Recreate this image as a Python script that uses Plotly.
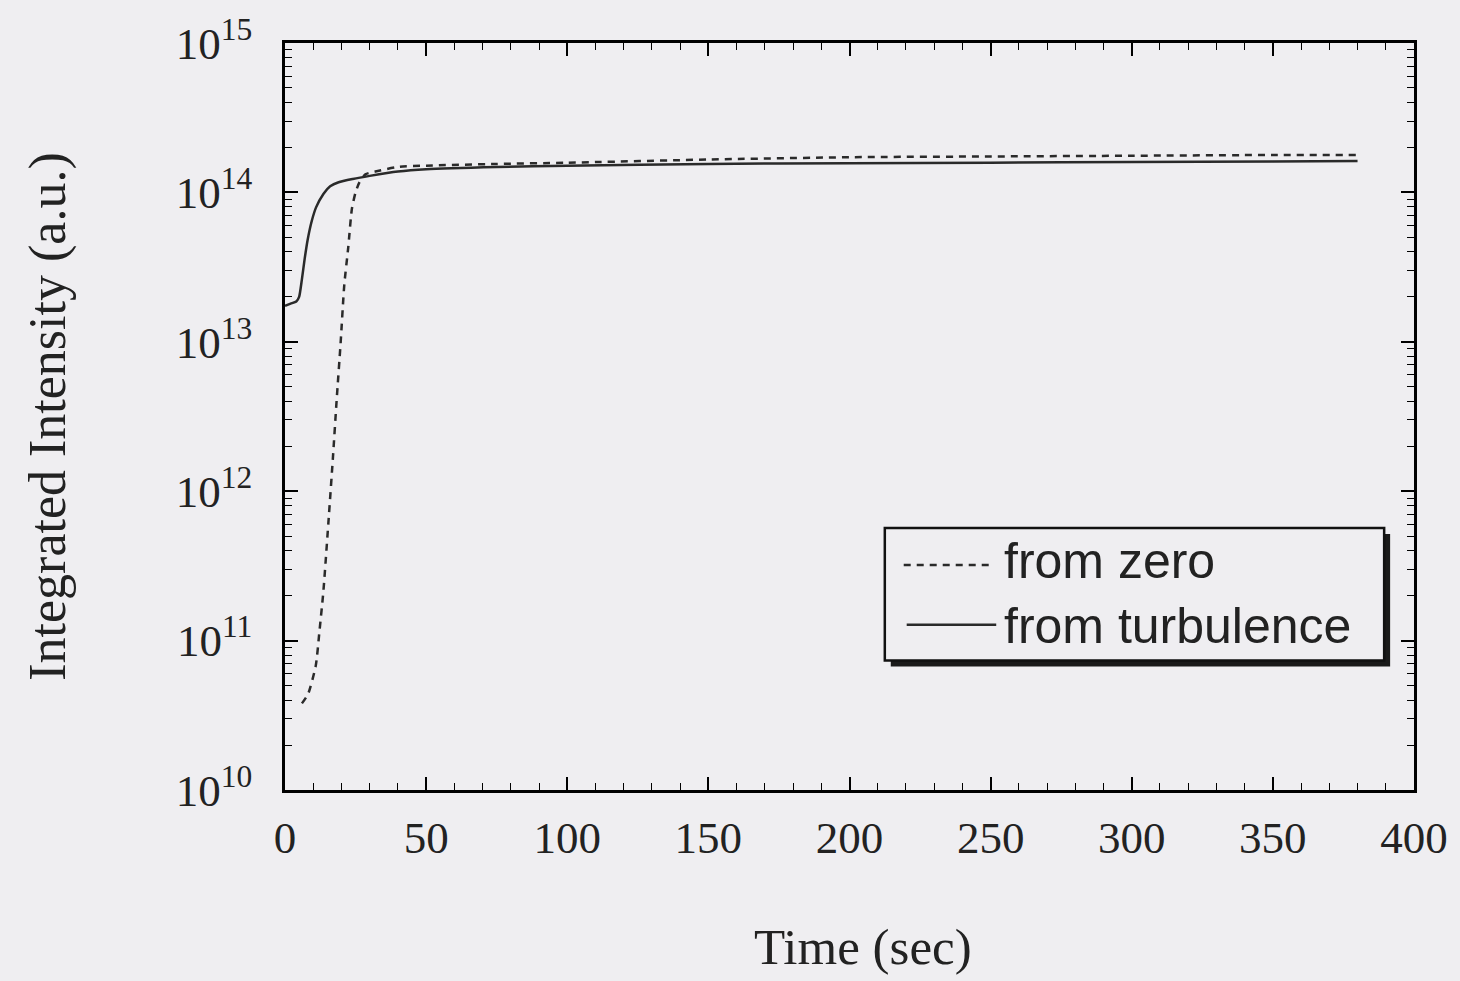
import plotly.graph_objects as go

# ---- data ----
t_turb = [0, 2, 4, 5, 6, 7, 8, 9.5, 11, 13.6, 16, 19, 24, 30, 40, 50, 75, 100, 150, 200, 250, 300, 350, 380]
i_turb = [1.74e13, 1.80e13, 1.86e13, 2.0e13, 2.63e13, 3.63e13, 4.79e13, 6.46e13, 7.94e13, 9.77e13,
          1.10e14, 1.17e14, 1.23e14, 1.29e14, 1.38e14, 1.43e14, 1.48e14, 1.51e14, 1.55e14, 1.57e14,
          1.58e14, 1.60e14, 1.61e14, 1.62e14]

t_zero = [6, 8.2, 10.9, 12.2, 13.6, 15.6, 17, 18.3, 19.7, 21, 22.4, 23.7, 25, 26.4, 28.5, 32, 40, 50,
          75, 100, 150, 200, 250, 300, 350, 380]
i_zero = [3.8e10, 4.4e10, 6.8e10, 1.15e11, 2.14e11, 7.08e11, 1.70e12, 4.07e12, 9.77e12, 2.40e13,
          4.27e13, 7.76e13, 1.0e14, 1.17e14, 1.32e14, 1.38e14, 1.48e14, 1.51e14, 1.55e14, 1.58e14,
          1.66e14, 1.72e14, 1.74e14, 1.76e14, 1.78e14, 1.78e14]

x_ticks = [0, 50, 100, 150, 200, 250, 300, 350, 400]
y_exponents = [10, 11, 12, 13, 14, 15]
legend_labels = ["from zero", "from turbulence"]

BG = "#efeef1"
INK = "#2a2a2a"
SERIF = "Liberation Serif, Times New Roman, serif"
SANS = "Liberation Sans, Arial, sans-serif"

fig = go.Figure()
fig.add_trace(go.Scatter(x=t_zero, y=i_zero, mode="lines", name=legend_labels[0],
                         line=dict(color=INK, width=2.5, dash="7px,6px", shape="spline", smoothing=0.6)))
fig.add_trace(go.Scatter(x=t_turb, y=i_turb, mode="lines", name=legend_labels[1],
                         line=dict(color=INK, width=2.5, shape="spline", smoothing=0.6)))

y_tickvals = [10 ** e for e in y_exponents]
y_ticktext = [f"10<sup>{e}</sup>" for e in y_exponents]
y_minor = [m * 10 ** e for e in y_exponents[:-1] for m in range(2, 10)]
x_minor = [v for v in range(0, 401, 10)]

fig.update_xaxes(range=[0, 400], tickvals=x_ticks, ticks="inside", ticklen=13, tickwidth=1.5,
                 tickcolor="black", showline=True, linecolor="black", linewidth=2.5,
                 mirror="allticks", showgrid=False, zeroline=False,
                 tickfont=dict(family=SERIF, size=45, color="#222"), ticklabelstandoff=6,
                 minor=dict(tickvals=x_minor, ticks="inside", ticklen=7, tickwidth=1.2,
                            tickcolor="black", showgrid=False))
fig.update_yaxes(type="log", range=[10, 15], tickvals=y_tickvals, ticktext=y_ticktext,
                 ticks="inside", ticklen=13, tickwidth=1.5, tickcolor="black",
                 showline=True, linecolor="black", linewidth=2.5, mirror="allticks",
                 showgrid=False, zeroline=False,
                 tickfont=dict(family=SERIF, size=45, color="#222"), ticklabelstandoff=21,
                 minor=dict(tickvals=y_minor, ticks="inside", ticklen=7, tickwidth=1.2,
                            tickcolor="black", showgrid=False))

# manual legend (box with drop shadow)
def px(x):
    return (x - 285) / 1135

def py(y):
    return (790 - y) / 750

shapes = [
    dict(type="rect", xref="paper", yref="paper", x0=px(894), x1=px(1396), y0=py(666), y1=py(533),
         fillcolor="#1a1a1a", line=dict(width=0), layer="above"),
    dict(type="rect", xref="paper", yref="paper", x0=px(888), x1=px(1390), y0=py(660), y1=py(527),
         fillcolor=BG, line=dict(color="#111", width=2.5), layer="above"),
    dict(type="line", xref="paper", yref="paper", x0=px(907), x1=px(998), y0=py(564), y1=py(564),
         line=dict(color=INK, width=2.5, dash="7px,6px"), layer="above"),
    dict(type="line", xref="paper", yref="paper", x0=px(910), x1=px(1000), y0=py(624), y1=py(624),
         line=dict(color=INK, width=2.5), layer="above"),
]
annotations = [
    dict(xref="paper", yref="paper", x=px(1006), y=py(593),
         text=legend_labels[0] + "<br>" + legend_labels[1], showarrow=False, align="left",
         xanchor="left", yanchor="middle", font=dict(family=SANS, size=50, color="#222")),
    dict(xref="paper", yref="paper", x=px(866), y=py(948), text="Time (sec)", showarrow=False,
         xanchor="center", yanchor="middle", font=dict(family=SERIF, size=51, color="#222")),
    dict(xref="paper", yref="paper", x=px(46), y=py(415), text="Integrated Intensity (a.u.)",
         showarrow=False, textangle=-90, xanchor="center", yanchor="middle",
         font=dict(family=SERIF, size=52, color="#222")),
]

fig.update_layout(width=1460, height=981, margin=dict(l=285, r=40, t=40, b=191),
                  paper_bgcolor=BG, plot_bgcolor=BG, showlegend=False,
                  shapes=shapes, annotations=annotations)

fig.write_html("out.html")
